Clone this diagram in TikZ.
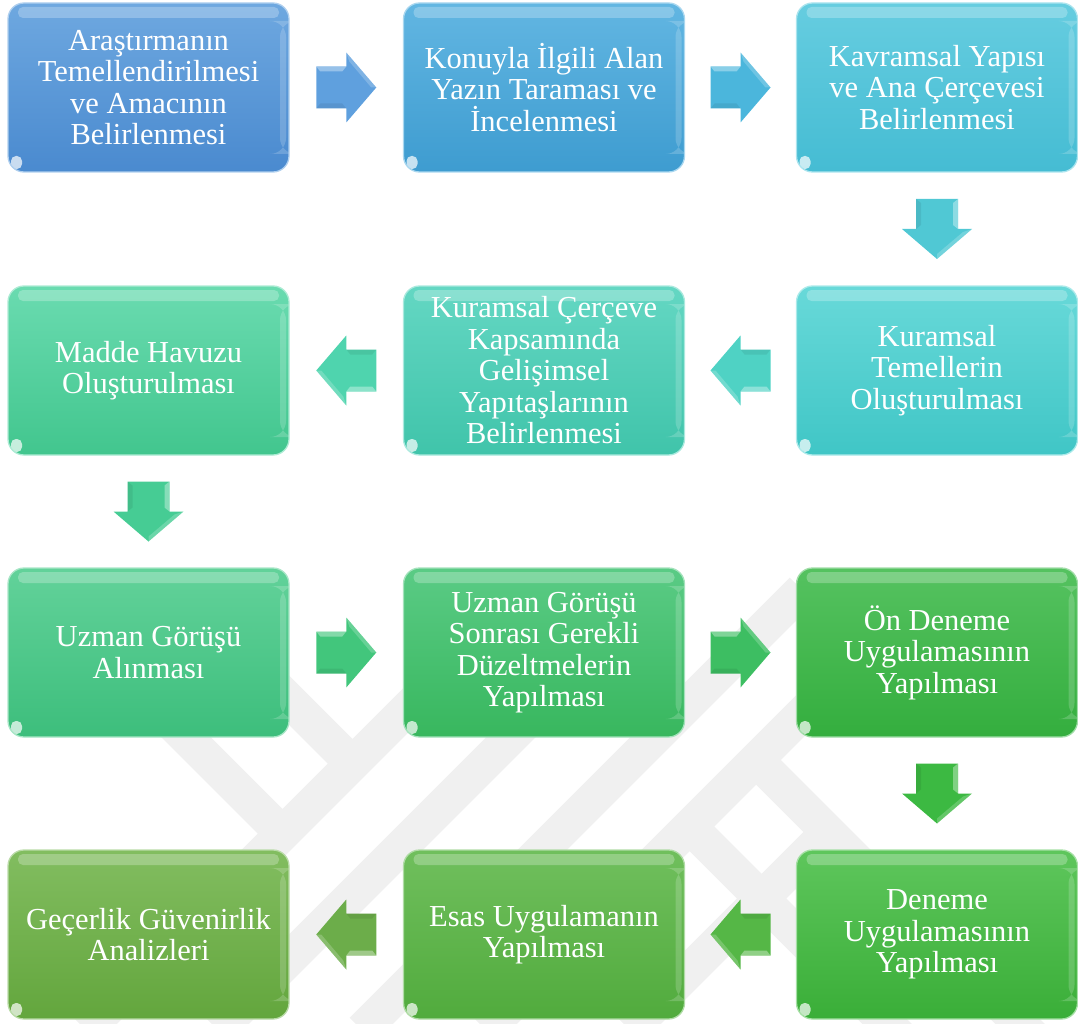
\documentclass[tikz,border=0pt]{standalone}
\usepackage{fontspec}
\setmainfont{Liberation Serif}
\usetikzlibrary{calc}
% box colours (top / bottom)
\definecolor{t11}{HTML}{6EA8E0}\definecolor{u11}{HTML}{4A8ACF}
\definecolor{t12}{HTML}{62B6E2}\definecolor{u12}{HTML}{3E9CD0}
\definecolor{t13}{HTML}{66CDE0}\definecolor{u13}{HTML}{45BCD3}
\definecolor{t23}{HTML}{68D9D9}\definecolor{u23}{HTML}{40C6C6}
\definecolor{t22}{HTML}{64D7C3}\definecolor{u22}{HTML}{40C4AA}
\definecolor{t21}{HTML}{6ADBB0}\definecolor{u21}{HTML}{42C68E}
\definecolor{t31}{HTML}{62D29A}\definecolor{u31}{HTML}{3DBE7C}
\definecolor{t32}{HTML}{5ACB85}\definecolor{u32}{HTML}{38B75E}
\definecolor{t33}{HTML}{55C260}\definecolor{u33}{HTML}{34AE3E}
\definecolor{t43}{HTML}{5EC65C}\definecolor{u43}{HTML}{3AAE38}
\definecolor{t42}{HTML}{70BF5D}\definecolor{u42}{HTML}{51AB3D}
\definecolor{t41}{HTML}{82BD60}\definecolor{u41}{HTML}{63A63D}
% arrow colours
\definecolor{a1}{HTML}{5FA0DE}\definecolor{a2}{HTML}{4BB6DC}
\definecolor{a3}{HTML}{50C8D4}\definecolor{a4}{HTML}{4FD2C4}
\definecolor{a5}{HTML}{4FD4AE}\definecolor{a6}{HTML}{46CC94}
\definecolor{a7}{HTML}{42C67C}\definecolor{a8}{HTML}{3DBE62}
\definecolor{a9}{HTML}{3CB942}\definecolor{a10}{HTML}{55B746}
\definecolor{a11}{HTML}{6CAD4A}
\definecolor{wmgray}{HTML}{F0F0F0}
\tikzset{
  stepbox/.style n args={2}{rounded corners=16pt, minimum width=281pt, minimum height=169pt,
    align=center, inner sep=0pt, text=white,
    font=\fontsize{30.5}{31.5}\selectfont,
    top color=#1, bottom color=#2, draw=#1!55!white, line width=1.3pt,
    path picture={
      \fill[white,opacity=.25,rounded corners=5pt]
        ([xshift=10pt,yshift=-4pt]path picture bounding box.north west) rectangle
        ([xshift=-10pt,yshift=-15pt]path picture bounding box.north east);
      \fill[white,opacity=.18]
        ([xshift=-9pt,yshift=-18pt]path picture bounding box.north east) rectangle
        ([xshift=-3pt,yshift=18pt]path picture bounding box.south east);
      \fill[white,opacity=.7,rounded corners=5pt]
        ([xshift=3pt,yshift=3pt]path picture bounding box.south west) rectangle
        ([xshift=14pt,yshift=16pt]path picture bounding box.south west);
    }},
  wm/.style={draw=wmgray, line width=35pt}
}
\newcommand\blockarr[3]{%
  \begin{scope}[shift={#1}, rotate=#2]
    \fill[#3] (-30,-21) -- (0,-21) -- (0,-35) -- (30,0) -- (0,35) -- (0,21) -- (-30,21) -- cycle;
    \fill[white,opacity=.35] (-30,-21) -- (0,-21) -- (-4,-16) -- (-26,-16) -- cycle;
    \fill[white,opacity=.2] (0,-35) -- (30,0) -- (25,0) -- (3,-26) -- cycle;
    \fill[black,opacity=.07] (-30,21) -- (0,21) -- (-4,16) -- (-26,16) -- cycle;
  \end{scope}}
\begin{document}
\begin{tikzpicture}[x=1pt,y=-1pt]
\useasboundingbox (0,0) rectangle (1078,1024);
% faint watermark
\begin{scope}
  \clip (0,0) rectangle (1078,1024);
  \draw[wm] (86,1030) -- (506,610);
  \draw[wm] (218,1030) -- (648,600);
  \draw[wm] (362,1030) -- (802,590);
  \draw[wm] (486,1030) -- (916,600);
  \draw[wm] (630,1030) -- (828,832);
  \draw[wm] (59,610) -- (282.5,833.5);
  \draw[wm] (200,611) -- (352.5,763.5);
  \draw[wm] (756,760) -- (1090,1094);
  \draw[wm] (689.5,826.5) -- (900,1037);
\end{scope}
% boxes
\node[stepbox={t11}{u11}] (b11) at (148.5,87.5) {Araştırmanın\\Temellendirilmesi\\ve Amacının\\Belirlenmesi};
\node[stepbox={t12}{u12}] (b12) at (544,87.5) {Konuyla İlgili Alan\\Yazın Taraması ve\\İncelenmesi};
\node[stepbox={t13}{u13}] (b13) at (937,87.5) {Kavramsal Yapısı\\ve Ana Çerçevesi\\Belirlenmesi};
\node[stepbox={t23}{u23}] (b23) at (937,370.5) {Kuramsal\\Temellerin\\Oluşturulması};
\node[stepbox={t22}{u22}] (b22) at (544,370.5) {Kuramsal Çerçeve\\Kapsamında\\Gelişimsel\\Yapıtaşlarının\\Belirlenmesi};
\node[stepbox={t21}{u21}] (b21) at (148.5,370.5) {Madde Havuzu\\Oluşturulması};
\node[stepbox={t31}{u31}] (b31) at (148.5,652.5) {Uzman Görüşü\\Alınması};
\node[stepbox={t32}{u32}] (b32) at (544,652.5) {Uzman Görüşü\\Sonrası Gerekli\\Düzeltmelerin\\Yapılması};
\node[stepbox={t33}{u33}] (b33) at (937,652.5) {Ön Deneme\\Uygulamasının\\Yapılması};
\node[stepbox={t43}{u43}] (b43) at (937,934.5) {Deneme\\Uygulamasının\\Yapılması};
\node[stepbox={t42}{u42}] (b42) at (544,934.5) {Esas Uygulamanın\\Yapılması};
\node[stepbox={t41}{u41}] (b41) at (148.5,934.5) {Geçerlik Güvenirlik\\Analizleri};
% block arrows
\blockarr{($(b11.east)!.5!(b12.west)$)}{0}{a1}
\blockarr{($(b12.east)!.5!(b13.west)$)}{0}{a2}
\blockarr{($(b13.south)!.5!(b23.north)$)}{-90}{a3}
\blockarr{($(b23.west)!.5!(b22.east)$)}{180}{a4}
\blockarr{($(b22.west)!.5!(b21.east)$)}{180}{a5}
\blockarr{($(b21.south)!.5!(b31.north)$)}{-90}{a6}
\blockarr{($(b31.east)!.5!(b32.west)$)}{0}{a7}
\blockarr{($(b32.east)!.5!(b33.west)$)}{0}{a8}
\blockarr{($(b33.south)!.5!(b43.north)$)}{-90}{a9}
\blockarr{($(b43.west)!.5!(b42.east)$)}{180}{a10}
\blockarr{($(b42.west)!.5!(b41.east)$)}{180}{a11}
\end{tikzpicture}
\end{document}
